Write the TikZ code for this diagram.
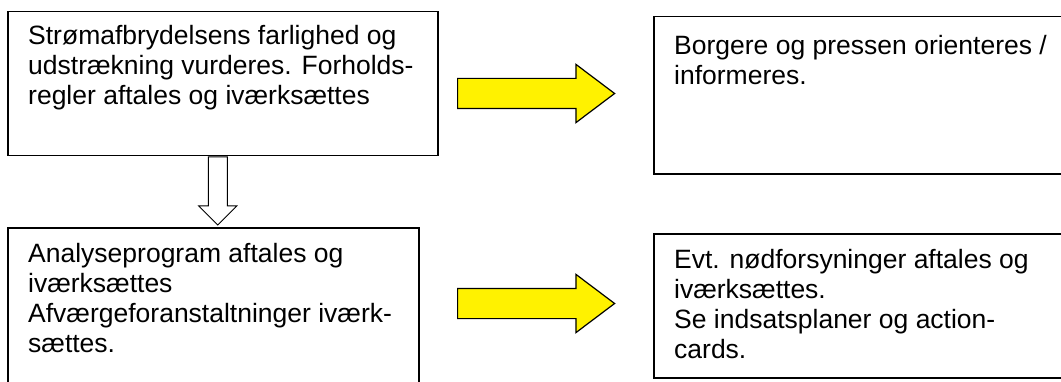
\documentclass[tikz,border=0pt]{standalone}
\usepackage{fontspec}
\setmainfont{Liberation Sans}
\usetikzlibrary{positioning, calc, shapes.arrows}

\begin{document}
\begin{tikzpicture}[x=1pt,y=1pt]
\tikzstyle{box}=[rectangle,draw=black,line width=1.5pt,anchor=north west,inner sep=0pt]
\tikzstyle{boxtext}=[align=left,inner sep=0pt,font=\fontsize{26.5}{30}\selectfont]
\tikzstyle{yarrow}=[single arrow,draw=black,fill=yellow,line width=1.2pt,inner sep=0pt,inner ysep=14.5pt,minimum height=157pt,single arrow head extend=14pt,single arrow tip angle=74,anchor=tail]
\tikzstyle{warrow}=[single arrow,draw=black,fill=white,line width=1pt,inner sep=0pt,inner ysep=9pt,minimum height=68pt,single arrow head extend=9.5pt,single arrow tip angle=90,anchor=tail,rotate=-90]

\useasboundingbox (0,0) rectangle (1061,381);
\clip (0,0) rectangle (1061,381);

% boxes
\node[box,minimum width=430pt,minimum height=144pt] (b1) at (7,370) {};
\node[box,minimum width=420pt,minimum height=157pt] (b2) at (653,365) {};
\node[box,minimum width=411pt,minimum height=170pt] (b3) at (7,154) {};
\node[box,minimum width=420pt,minimum height=144pt] (b4) at (653,148) {};

\node[boxtext, below right=14pt and 21pt of b1.north west] (b1_text)
  {Strømafbrydelsens farlighed og\\udstrækning vurderes. Forholds-\\regler aftales og iværksættes};
\node[boxtext, below right=19.5pt and 21pt of b2.north west] (b2_text)
  {Borgere og pressen orienteres /\\informeres.};
\node[boxtext, below right=16.5pt and 21pt of b3.north west] (b3_text)
  {Analyseprogram aftales og\\iværksættes\\Afværgeforanstaltninger iværk-\\sættes.};
\node[boxtext, below right=16.5pt and 21pt of b4.north west] (b4_text)
  {Evt. nødforsyninger aftales og\\iværksættes.\\Se indsatsplaner og action-\\cards.};

% arrows
\node[yarrow] (a12) at (457,287.5) {};
\node[yarrow] (a34) at (457,77.5) {};
\node[warrow] (a13) at ($(b1.south)+(-5,0)$) {};
\end{tikzpicture}
\end{document}
